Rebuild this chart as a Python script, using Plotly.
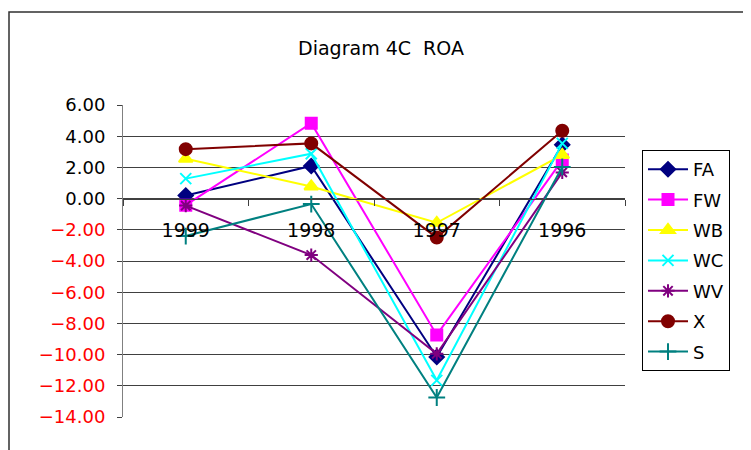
import plotly.graph_objects as go

categories = ["1999", "1998", "1997", "1996"]
series_names = ["FA", "FW", "WB", "WC", "WV", "X", "S"]
FA = [0.20, 2.09, -10.15, 3.45]
FW = [-0.42, 4.83, -8.74, 2.47]
WB = [2.55, 0.78, -1.55, 2.80]
WC = [1.28, 2.88, -11.65, 3.54]
WV = [-0.45, -3.62, -9.95, 1.68]
X = [3.17, 3.54, -2.50, 4.35]
S = [-2.40, -0.35, -12.75, 2.03]
y_ticks = [6, 4, 2, 0, -2, -4, -6, -8, -10, -12, -14]

values = [FA, FW, WB, WC, WV, X, S]
colors = ["#000080", "#FF00FF", "#FFFF00", "#00FFFF", "#800080", "#800000", "#008080"]
symbols = ["diamond", "square", "triangle-up", "x-thin", "asterisk", "circle", "cross-thin"]
sizes = [11, 11, 12, 11, 11, 12, 12]

fig = go.Figure()
for name, vals, c, s, sz in zip(series_names, values, colors, symbols, sizes):
    fig.add_trace(go.Scatter(
        x=categories, y=vals, name=name, mode="lines+markers",
        line=dict(color=c, width=2),
        marker=dict(symbol=s, size=sz, color=c, line=dict(color=c, width=2)),
        legendgroup=name,
    ))

def fmt(v):
    s = f"{abs(v):.2f}"
    if v < 0:
        return f'<span style="color:#FF0000">\u2212{s}</span>'
    return s

# page body has an 8px margin; figure is sized to fill the rest of the window
OFF = 8
W, H = 751 - OFF, 450 - OFF
PL, PR, PT, PB = 123, 625, 105, 417  # plot area in window pixels
pw, ph = PR - PL, PB - PT

ymin, ymax = -14, 6
FONT = "DejaVu Sans, Liberation Sans, Arial, sans-serif"
fig.update_layout(
    width=W, height=H,
    margin=dict(l=PL - OFF, r=W - (PR - OFF), t=PT - OFF, b=H - (PB - OFF)),
    paper_bgcolor="white", plot_bgcolor="white",
    font=dict(family=FONT, size=18, color="black"),
    title=dict(text="Diagram 4C\u00a0\u00a0ROA", x=(381 - OFF) / W, xanchor="center",
               y=1 - (48 - OFF) / H, yanchor="middle", font=dict(size=19)),
    showlegend=True,
    legend=dict(x=(642 - PL) / pw, y=(PB - 150) / ph, xanchor="left", yanchor="top",
                bordercolor="black", borderwidth=1, bgcolor="white",
                font=dict(size=18), tracegroupgap=4, itemwidth=40),
    xaxis=dict(type="category", anchor="free", position=(0 - ymin) / (ymax - ymin),
               showline=True, linecolor="#404040", linewidth=1,
               ticks="outside", ticklen=6, tickcolor="#404040", tickson="boundaries",
               showgrid=False, ticklabelstandoff=15, tickfont=dict(size=19),
               range=[-0.5, 3.5]),
    yaxis=dict(range=[ymin, ymax], tickvals=y_ticks, ticktext=[fmt(v) for v in y_ticks],
               showline=True, linecolor="#808080", linewidth=1,
               ticks="outside", ticklen=5, tickcolor="#404040",
               showgrid=True, gridcolor="#404040", gridwidth=1, zeroline=False,
               tickfont=dict(size=18), ticklabelstandoff=8),
)

# outer chart frame
fig.add_shape(type="rect", xref="paper", yref="paper",
              x0=(9 - PL) / pw, x1=(770 - PL) / pw,
              y0=(PB - 470) / ph, y1=(PB - 12) / ph,
              line=dict(color="#303030", width=1.5), fillcolor="rgba(0,0,0,0)", layer="below")

fig.write_html("out.html")
